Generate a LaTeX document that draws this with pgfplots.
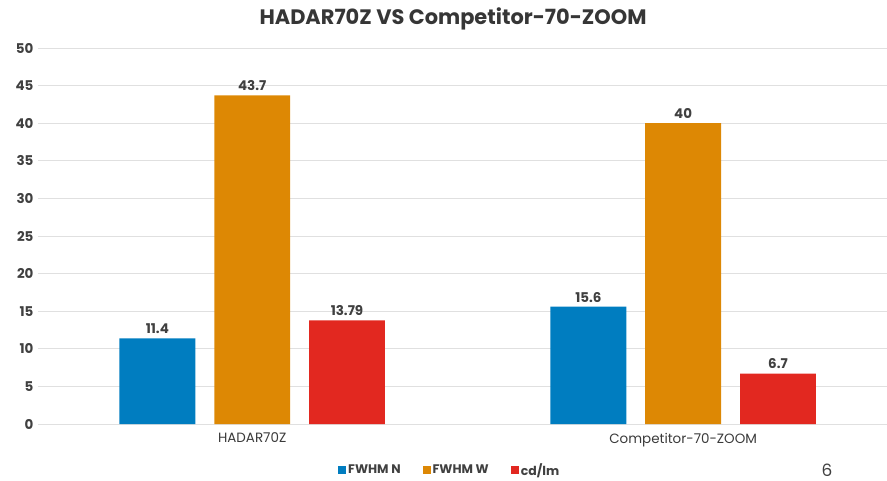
\documentclass[border=0pt]{standalone}
\usepackage{fontspec}
\setmainfont{Poppins}
\usepackage{pgfplots}
\pgfplotsset{compat=1.18}
\definecolor{cblue}{RGB}{0,125,192}
\definecolor{corange}{RGB}{221,136,4}
\definecolor{cred}{RGB}{226,40,32}
\definecolor{ctext}{RGB}{64,64,64}
\definecolor{cgrid}{RGB}{224,224,224}
\begin{document}
\begin{tikzpicture}
\path[use as bounding box] (-38bp,-57bp) rectangle (849bp,424bp);
\begin{axis}[
  at={(0,0)}, anchor=south west,
  scale only axis, width=849bp, height=376bp,
  xmin=-0.497, xmax=1.473, ymin=0, ymax=50,
  ybar, bar width=0.176,
  ytick={0,5,...,50}, ymajorgrids,
  grid style={cgrid, line width=0.8pt},
  axis line style={draw=none}, major tick style={draw=none},
  xtick={0,1}, xticklabels={HADAR70Z, Competitor-70-ZOOM},
  /pgf/number format/assume math mode=true,
  yticklabel style={font=\bfseries\fontsize{13.5}{15}\selectfont, text=ctext, xshift=-1bp},
  xticklabel style={font=\fontsize{13.5}{15}\selectfont, text=ctext!90!black, yshift=-1bp},
  nodes near coords={\pgfmathprintnumber[fixed,precision=2]{\pgfplotspointmeta}},
  every node near coord/.append style={font=\bfseries\fontsize{13.5}{15}\selectfont, text=ctext, yshift=1bp},
  legend style={at={(0.485,-0.122)}, anchor=center, legend columns=3, draw=none, fill=none,
    font=\bfseries\fontsize{12.5}{14}\selectfont, text=ctext,
    /tikz/every even column/.append style={column sep=20bp}},
  legend image code/.code={\fill[#1] (0bp,-4bp) rectangle (8bp,4bp);},
  clip=false,
]
\addplot[fill=cblue, draw=none, bar shift=-0.22] coordinates {(0,11.4) (1,15.6)};
\addplot[fill=corange, draw=none, bar shift=0] coordinates {(0,43.7) (1,40)};
\addplot[fill=cred, draw=none, bar shift=0.22] coordinates {(0,13.79) (1,6.7)};
\legend{FWHM N, FWHM W, cd/lm}
\end{axis}
\node[font=\bfseries\fontsize{21}{24}\selectfont, text=ctext!85!black] at (415bp,405bp) {HADAR70Z VS Competitor-70-ZOOM};
\node[font=\fontsize{17}{19}\selectfont, text=ctext, inner sep=0pt] at (789bp,-46bp) {6};
\end{tikzpicture}
\end{document}
